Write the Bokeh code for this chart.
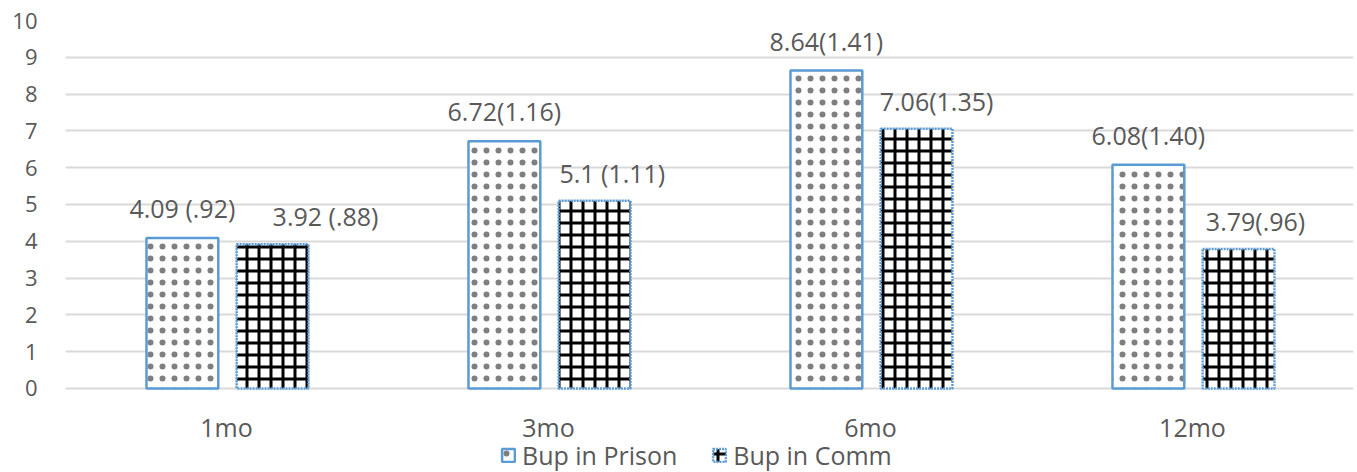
from bokeh.plotting import figure
from bokeh.models import ColumnDataSource, FactorRange, Legend, LegendItem
from bokeh.transform import dodge
from bokeh.embed import file_html
from bokeh.resources import INLINE
from bokeh.core.properties import value

categories = ["1mo", "3mo", "6mo", "12mo"]
prison = [4.09, 6.72, 8.64, 6.08]
comm = [3.92, 5.1, 7.06, 3.79]
prison_labels = ["4.09 (.92)", "6.72(1.16)", "8.64(1.41)", "6.08(1.40)"]
comm_labels = ["3.92 (.88)", "5.1  (1.11)", "7.06(1.35)", "3.79(.96)"]
y_ticks = list(range(0, 11))

src = ColumnDataSource(dict(cat=categories, prison=prison, comm=comm,
                            plab=prison_labels, clab=comm_labels))
# horizontal pixel shift of each comm label relative to its bar (layout only)
src.data["cshift"] = [53, 21, 20, 17]

FONT = "Open Sans"
TXT = "#595959"

# frame extends to the bottom edge so the legend can sit inside it
p = figure(x_range=FactorRange(*categories, range_padding=0), y_range=(-2.283, 10),
           width=1357, height=472, output_backend="svg", toolbar_location=None,
           min_border_left=65, min_border_right=4, min_border_top=20, min_border_bottom=0)
p.outline_line_color = None
p.background_fill_color = "white"

r1 = p.vbar(x=dodge("cat", -0.137, range=p.x_range), top="prison", width=0.223, source=src,
            fill_color="white", line_color="#5B9BD5", line_width=2.5,
            hatch_pattern=".", hatch_color="black", hatch_scale=12, hatch_alpha=0.5)
r2 = p.vbar(x=dodge("cat", 0.143, range=p.x_range), top="comm", width=0.223, source=src,
            fill_color="white", line_color="#5B9BD5", line_width=2.5, line_dash="2 1",
            hatch_pattern="+", hatch_color="black", hatch_scale=12, hatch_weight=3)

p.text(x=dodge("cat", -0.137, range=p.x_range), y="prison", text="plab", source=src,
       text_align="center", text_baseline="middle", y_offset=-30,
       text_font=value(FONT), text_font_size="25px", text_color=TXT)
p.text(x=dodge("cat", 0.143, range=p.x_range), y="comm", text="clab", source=src,
       text_align="center", text_baseline="middle", y_offset=-28, x_offset="cshift",
       text_font=value(FONT), text_font_size="25px", text_color=TXT)

p.yaxis.ticker = y_ticks
p.ygrid.ticker = y_ticks
p.ygrid.grid_line_color = "#D9D9D9"
p.ygrid.grid_line_width = 2
p.xgrid.grid_line_color = None
for ax in (p.xaxis, p.yaxis):
    ax.axis_line_color = None
    ax.major_tick_line_color = None
    ax.minor_tick_line_color = None
    ax.major_label_text_font = FONT
    ax.major_label_text_color = TXT
p.yaxis.major_label_text_font_size = "22px"
p.xaxis.major_label_text_font_size = "25px"
p.yaxis.major_label_standoff = 22
p.xaxis.fixed_location = 0
p.xaxis.major_label_standoff = 16

legend = Legend(items=[LegendItem(label="Bup in Prison", renderers=[r1]),
                       LegendItem(label="Bup in Comm", renderers=[r2])],
                orientation="horizontal", location=(435, 0),
                label_text_font=FONT, label_text_font_size="25px", label_text_color=TXT,
                glyph_width=16, glyph_height=16, spacing=34, padding=0, margin=0,
                border_line_color=None, background_fill_alpha=0, label_standoff=6)
p.add_layout(legend, "center")

open("out.html", "w").write(file_html(p, INLINE))
